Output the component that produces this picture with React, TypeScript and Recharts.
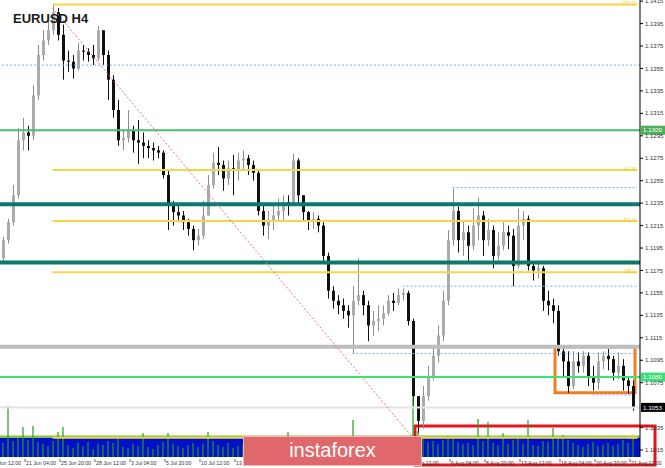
import { ComposedChart, Bar, XAxis, YAxis, ReferenceLine, ReferenceArea } from 'recharts';

// EURUSD H4, one entry ~ 9h of price action
const firstOpen = 1.1186;
const closes = [
  1.1202, 1.1218, 1.1242, 1.1291, 1.1298, 1.1295, 1.1331, 1.1367, 1.1380, 1.1389,
  1.1405, 1.1385, 1.1362, 1.1361, 1.1355, 1.1371, 1.1370, 1.1367, 1.1364, 1.1389,
  1.1367, 1.1345, 1.1318, 1.1291, 1.1293, 1.1300, 1.1291, 1.1289, 1.1286, 1.1284,
  1.1282, 1.1280, 1.1260, 1.1233, 1.1227, 1.1224, 1.1218, 1.1212, 1.1202, 1.1206,
  1.1224, 1.1251, 1.1271, 1.1269, 1.1257, 1.1266, 1.1264, 1.1273, 1.1275, 1.1269,
  1.1262, 1.1228, 1.1215, 1.1219, 1.1224, 1.1228, 1.1236, 1.1233, 1.1273, 1.1242,
  1.1227, 1.1219, 1.1221, 1.1215, 1.1188, 1.1157, 1.1148, 1.1144, 1.1139, 1.1135,
  1.1148, 1.1153, 1.1144, 1.1126, 1.1130, 1.1132, 1.1137, 1.1148, 1.1146, 1.1153,
  1.1155, 1.1130, 1.1063, 1.1041, 1.1063, 1.1081, 1.1099, 1.1117, 1.1148, 1.1202,
  1.1228, 1.1202, 1.1209, 1.1197, 1.1215, 1.1224, 1.1202, 1.1211, 1.1188, 1.1197,
  1.1209, 1.1206, 1.1179, 1.1215, 1.1221, 1.1179, 1.1175, 1.1177, 1.1148, 1.1144,
  1.1139, 1.1103, 1.1094, 1.1072, 1.1094, 1.1090, 1.1099, 1.1081, 1.1075, 1.1094,
  1.1099, 1.1096, 1.1084, 1.1090, 1.1077, 1.1072, 1.1053,
];
const highs = [
  1.1205, 1.1221, 1.1251, 1.1302, 1.1311, 1.1304, 1.1340, 1.1376, 1.1389, 1.1398,
  1.1412, 1.1409, 1.1394, 1.1371, 1.1367, 1.1378, 1.1376, 1.1373, 1.1376, 1.1393,
  1.1389, 1.1371, 1.1349, 1.1327, 1.1300, 1.1318, 1.1304, 1.1309, 1.1298, 1.1291,
  1.1289, 1.1286, 1.1282, 1.1264, 1.1237, 1.1233, 1.1228, 1.1221, 1.1215, 1.1212,
  1.1237, 1.1260, 1.1280, 1.1285, 1.1273, 1.1273, 1.1278, 1.1280, 1.1282, 1.1278,
  1.1273, 1.1264, 1.1233, 1.1228, 1.1233, 1.1239, 1.1242, 1.1242, 1.1279, 1.1275,
  1.1242, 1.1228, 1.1227, 1.1224, 1.1218, 1.1191, 1.1161, 1.1153, 1.1150, 1.1144,
  1.1161, 1.1186, 1.1157, 1.1148, 1.1139, 1.1144, 1.1144, 1.1153, 1.1155, 1.1159,
  1.1159, 1.1157, 1.1132, 1.1063, 1.1072, 1.1090, 1.1108, 1.1126, 1.1157, 1.1211,
  1.1248, 1.1232, 1.1219, 1.1215, 1.1230, 1.1240, 1.1228, 1.1221, 1.1215, 1.1209,
  1.1218, 1.1215, 1.1212, 1.1230, 1.1228, 1.1224, 1.1182, 1.1182, 1.1179, 1.1157,
  1.1150, 1.1144, 1.1108, 1.1103, 1.1103, 1.1102, 1.1103, 1.1102, 1.1090, 1.1102,
  1.1103, 1.1105, 1.1099, 1.1102, 1.1096, 1.1081, 1.1077,
];
const lows = [
  1.1182, 1.1199, 1.1215, 1.1239, 1.1282, 1.1282, 1.1291, 1.1327, 1.1362, 1.1376,
  1.1385, 1.1380, 1.1345, 1.1352, 1.1346, 1.1353, 1.1362, 1.1361, 1.1358, 1.1362,
  1.1358, 1.1327, 1.1311, 1.1286, 1.1282, 1.1289, 1.1280, 1.1270, 1.1275, 1.1275,
  1.1273, 1.1275, 1.1257, 1.1211, 1.1215, 1.1218, 1.1211, 1.1206, 1.1193, 1.1197,
  1.1203, 1.1224, 1.1248, 1.1260, 1.1246, 1.1251, 1.1242, 1.1255, 1.1264, 1.1260,
  1.1255, 1.1224, 1.1206, 1.1203, 1.1211, 1.1218, 1.1219, 1.1224, 1.1233, 1.1233,
  1.1219, 1.1211, 1.1212, 1.1209, 1.1182, 1.1150, 1.1141, 1.1136, 1.1132, 1.1124,
  1.1101, 1.1144, 1.1135, 1.1112, 1.1117, 1.1121, 1.1126, 1.1135, 1.1139, 1.1144,
  1.1148, 1.1126, 1.1054, 1.1030, 1.1034, 1.1059, 1.1077, 1.1093, 1.1112, 1.1144,
  1.1197, 1.1191, 1.1188, 1.1182, 1.1193, 1.1202, 1.1188, 1.1197, 1.1177, 1.1182,
  1.1193, 1.1194, 1.1161, 1.1177, 1.1202, 1.1175, 1.1166, 1.1168, 1.1139, 1.1135,
  1.1128, 1.1099, 1.1081, 1.1066, 1.1069, 1.1084, 1.1084, 1.1072, 1.1068, 1.1069,
  1.1087, 1.1086, 1.1077, 1.1078, 1.1068, 1.1065, 1.1050,
];
const volumes = [
  1400, 5100, 1600, 1900, 3000, 1700, 3100, 1500, 1300, 1100,
  1600, 2500, 3000, 1200, 900, 1400, 1100, 1500, 800, 1300,
  1200, 1600, 1400, 1800, 1000, 900, 1300, 1100, 2400, 1000,
  800, 1200, 1500, 2400, 1300, 1100, 900, 1200, 1400, 1000,
  1300, 2500, 1600, 1200, 1000, 1400, 900, 1100, 1300, 800,
  1000, 1700, 1400, 1200, 1000, 1300, 1100, 2500, 1800, 1500,
  1200, 1000, 900, 1300, 1700, 1900, 1400, 1100, 1200, 1500,
  3700, 1800, 1300, 1500, 1100, 1200, 1000, 1300, 900, 1100,
  1000, 1600, 6000, 2600, 1900, 1500, 1600, 1300, 1700, 2100,
  1900, 1500, 1300, 1400, 1200, 3800, 1600, 3500, 1400, 1200,
  2400, 1300, 1700, 1800, 1300, 3700, 1200, 1100, 1600, 1500,
  2900, 1800, 2200, 1700, 1400, 1200, 1000, 1300, 1500, 1100,
  1200, 1400, 1100, 1300, 1700, 1400, 1900,
];

const priceTicks = [
  1.1415, 1.1395, 1.1375, 1.1355, 1.1335, 1.1315, 1.1295, 1.1275, 1.1255, 1.1235,
  1.1215, 1.1195, 1.1175, 1.1155, 1.1135, 1.1115, 1.1095, 1.1075, 1.1035, 1.1015,
];
const timeTickIdx = [0, 5, 12, 19, 26, 33, 40, 47, 54, 61, 68, 75, 82, 90, 97, 104, 112, 119, 126];
const timeTickText = [
  '18 Jun 12:00', '21 Jun 04:00', '25 Jun 20:00', '28 Jun 12:00', '3 Jul 04:00', '5 Jul 20:00',
  '10 Jul 12:00', '13 Jul 04:00', '17 Jul 20:00', '20 Jul 12:00', '25 Jul 04:00', '27 Jul 20:00',
  '1 Aug 12:00', '6 Aug 04:00', '8 Aug 20:00', '13 Aug 12:00', '16 Aug 04:00', '20 Aug 20:00', '21 Aug 12:00',
];

// fibo retracement drawn from the 1.1412 top to the 1.1026 low
const fibHigh = 1.1412;
const fibLow = 1.1026;
const fibLevels = [0, 38.2, 50, 61.8, 100];

const levelBlueTop = 1.1358;
const level1300 = 1.13;
const tealLevels = [1.1234, 1.1182];
const levelGray = 1.1107;
const level1080 = 1.108;
const lastPrice = 1.1053;
const shortLevels = [
  { from: 90, to: 127, price: 1.1249 },
  { from: 80, to: 127, price: 1.1161 },
  { from: 70, to: 127, price: 1.1101 },
  { from: 118, to: 126, price: 1.1064 },
];
const trendFrom = { i: 10, price: 1.1409 };
const trendTo = { i: 83, price: 1.1021 };
const rangeBox = { from: 111, to: 126, top: 1.1107, bottom: 1.1066 };
const volBand = 1900;

const data = [
  ...closes.map((c, i) => ({
    i,
    o: i === 0 ? firstOpen : closes[i - 1],
    h: highs[i],
    l: lows[i],
    c,
    v: volumes[i],
  })),
  { i: closes.length },
];

const FONT = '"Liberation Sans", Arial, sans-serif';

function Candle(props: any) {
  const { x, y, width, height, payload } = props;
  if (payload.h == null) return null;
  const top = Math.min(y, y + height);
  const hgt = Math.abs(height);
  const k = hgt / (payload.h - payload.l || 1);
  const up = payload.c >= payload.o;
  const y1 = top + (payload.h - Math.max(payload.o, payload.c)) * k;
  const y2 = top + (payload.h - Math.min(payload.o, payload.c)) * k;
  const cx = Math.round(x + width / 2) + 0.5;
  return (
    <g>
      <line x1={cx} x2={cx} y1={top} y2={top + hgt} stroke={up ? '#8e8e8e' : '#111'} />
      <rect x={cx - 1.5} y={y1} width={3} height={Math.max(1, y2 - y1)} fill={up ? '#ababab' : '#111'} />
    </g>
  );
}

function PriceTag(props: any) {
  const { viewBox, text, bg } = props;
  const { x, y, width } = viewBox;
  return (
    <g>
      <rect x={x + width + 1} y={y - 4.5} width={26} height={9} fill={bg} />
      <text x={x + width + 3} y={y + 2.2} fontSize={6.2} fill="#fff" fontFamily={FONT}>{text}</text>
    </g>
  );
}

function FibTag(props: any) {
  const { viewBox, text } = props;
  const { x, y, width } = viewBox;
  return (
    <text x={x + width - 2} y={y + 1} fontSize={6} fill="#f0cf3c" textAnchor="end" fontFamily={FONT}>{text}</text>
  );
}

function TimeTick(props: any) {
  const { x, y, payload } = props;
  const k = timeTickIdx.indexOf(payload.value);
  const tx = x - 2.5 + (payload.value === 0 ? -10 : 0);
  return (
    <g>
      <line x1={tx} x2={tx} y1={y - 6} y2={y - 3} stroke="#666" />
      <text x={tx + 1} y={y - 0.5} fontSize={5.2} fill="#333" fontFamily={FONT}>{timeTickText[k]}</text>
    </g>
  );
}

function RedFrame(props: any) {
  const { x, y, width, height } = props;
  return <rect x={x} y={y} width={width + 15} height={height} fill="none" stroke="#e8141c" strokeWidth={3} />;
}

export default function App() {
  return (
    <div style={{ position: 'absolute', left: 0, top: 0, width: 665, height: 468, background: '#fff', overflow: 'hidden' }}>
      <ComposedChart width={665} height={468} data={data} margin={{ top: 0, right: 0, bottom: 0, left: 0 }} barCategoryGap={0}>
        <XAxis dataKey="i" type="category" ticks={timeTickIdx} interval={0} height={11} axisLine={false} tickLine={false} tick={<TimeTick />} />
        <XAxis xAxisId="v" dataKey="i" type="category" hide />
        <YAxis
          orientation="right"
          width={25}
          type="number"
          domain={[1.10088, 1.1416]}
          allowDataOverflow
          ticks={priceTicks}
          interval={0}
          tickFormatter={(v: number) => v.toFixed(4)}
          tick={{ fontSize: 6, fill: '#333', fontFamily: FONT }}
          tickSize={3}
          tickMargin={2}
          axisLine={{ stroke: '#000' }}
          tickLine={{ stroke: '#000' }}
        />
        <YAxis yAxisId="vol" hide domain={[0, 45700]} allowDataOverflow />

        <Bar dataKey={(d: any) => (d.h == null ? null : [d.l, d.h])} shape={<Candle />} isAnimationActive={false} />

        <ReferenceArea yAxisId="vol" y1={0} y2={volBand} fill="#0010c8" fillOpacity={1} stroke="none" />
        <ReferenceArea yAxisId="vol" y1={volBand} y2={volBand + 250} fill="#86c440" fillOpacity={1} stroke="none" />
        <Bar xAxisId="v" yAxisId="vol" dataKey="v" fill="#1e9e1e" fillOpacity={0.6} barSize={2} isAnimationActive={false} />

        <ReferenceLine y={levelBlueTop} stroke="#7db4f5" strokeDasharray="2 2" />
        <ReferenceLine y={level1300} stroke="#4cbb6e" strokeWidth={2} label={<PriceTag text="1.1300" bg="#4caf5a" />} />
        {tealLevels.map((p) => (
          <ReferenceLine key={p} y={p} stroke="#0b7a6c" strokeWidth={4} />
        ))}
        <ReferenceLine y={levelGray} stroke="#bdbdbd" strokeWidth={4} />
        <ReferenceLine y={lastPrice} stroke="#e3e3e3" strokeWidth={2} label={<PriceTag text="1.1053" bg="#000" />} />
        <ReferenceLine y={level1080} stroke="#35e67a" strokeWidth={2} label={<PriceTag text="1.1080" bg="#3ddc7c" />} />
        {shortLevels.map((s) => (
          <ReferenceLine
            key={s.price}
            segment={[{ x: s.from, y: s.price }, { x: s.to, y: s.price }]}
            stroke="#7db4f5"
            strokeDasharray="2 2"
          />
        ))}
        {fibLevels.map((f) => {
          const p = fibLow + ((fibHigh - fibLow) * f) / 100;
          return (
            <ReferenceLine
              key={f}
              segment={[{ x: trendFrom.i, y: p }, { x: 127, y: p }]}
              stroke="#f5d54a"
              strokeWidth={2}
              label={<FibTag text={f.toFixed(1)} />}
            />
          );
        })}
        <ReferenceLine
          segment={[{ x: trendFrom.i, y: trendFrom.price }, { x: trendTo.i, y: trendTo.price }]}
          stroke="#f07070"
          strokeDasharray="2 2"
        />
        <ReferenceArea
          x1={rangeBox.from}
          x2={rangeBox.to}
          y1={rangeBox.bottom}
          y2={rangeBox.top}
          fill="none"
          stroke="#f47c20"
          strokeWidth={3}
        />
        <ReferenceArea yAxisId="vol" x1={83} x2={127} y1={-800} y2={3100} ifOverflow="visible" shape={<RedFrame />} />
      </ComposedChart>

      <div style={{ position: 'absolute', left: 13, top: 11, fontFamily: FONT, fontWeight: 700, fontSize: 13, color: '#1a1a1a' }}>
        EURUSD H4
      </div>
      <div
        style={{
          position: 'absolute',
          left: 243,
          top: 436,
          width: 177,
          height: 28,
          background: '#e0686c',
          border: '1px solid #f2b3b3',
          color: '#fff',
          fontFamily: FONT,
          fontSize: 20,
          fontWeight: 300,
          lineHeight: '27px',
          textAlign: 'center',
        }}
      >
        instaforex
      </div>
    </div>
  );
}
